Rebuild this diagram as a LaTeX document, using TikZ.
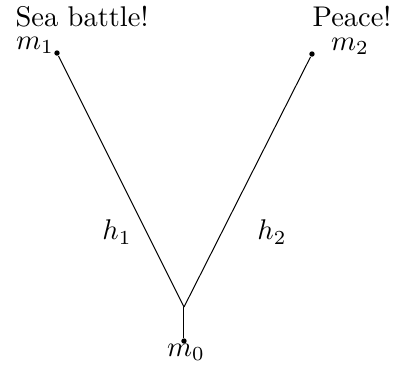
\documentclass[tikz,border=0pt]{standalone}
\begin{document}
\begin{tikzpicture}[x=0.351pt,y=-0.351pt,
    dot/.style={circle,fill,inner sep=0pt,minimum size=1.9pt},
    lbl/.style={inner sep=0pt}]
  \useasboundingbox (0,0) rectangle (396,364);
  % outcomes and root
  \node[dot] (m1) at (57,53) {};
  \node[dot] (m2) at (312,54) {};
  \node[dot] (m0) at (184,341) {};
  \coordinate (fork) at (184,307);

  % branches
  \draw[line width=0.35pt] (m0) -- (fork);
  \draw[line width=0.35pt] (fork) -- (m1);
  \draw[line width=0.35pt] (fork) -- (m2);

  % labels
  \node[lbl] (m1lbl) at (35,45.5) {$m_1$};
  \node[lbl] (m2lbl) at (350,46.5) {$m_2$};
  \node[lbl] (m0lbl) at (186,352) {$m_0$};
  \node[lbl] (sea) at (82,16.5) {Sea battle!};
  \node[lbl] (peace) at (352,16.5) {Peace!};
  \node[lbl] (h1) at (117,232) {$h_1$};
  \node[lbl] (h2) at (272,232) {$h_2$};
\end{tikzpicture}
\end{document}
